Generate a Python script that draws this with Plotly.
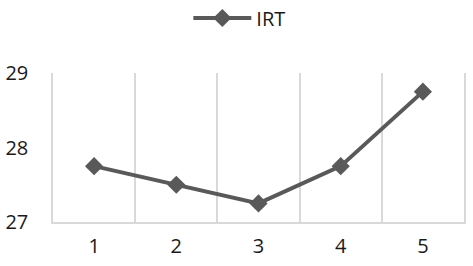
import plotly.graph_objects as go

# IRT values per category
categories = [1, 2, 3, 4, 5]
irt = [27.75, 27.5, 27.25, 27.75, 28.75]
y_ticks = [27, 28, 29]

fig = go.Figure()
fig.add_trace(go.Scatter(
    x=categories, y=irt, mode="lines+markers", name="IRT",
    line=dict(color="#595959", width=4),
    marker=dict(symbol="diamond", size=14, color="#595959"),
))

fig.update_layout(
    width=473, height=266,
    margin=dict(l=53, r=9, t=73, b=44, autoexpand=False),
    paper_bgcolor="white", plot_bgcolor="white",
    font=dict(family="Open Sans", size=20, color="#1a1a1a"),
    showlegend=True,
    legend=dict(orientation="h", x=0.506, xanchor="center", xref="container",
                y=1 - 18 / 266, yanchor="middle", yref="container",
                itemwidth=58, font=dict(size=20)),
)
fig.update_xaxes(
    range=[0.5, 5.5], tickvals=categories, showgrid=False,
    showline=True, linecolor="#d9d9d9", linewidth=1.5,
    ticks="", ticklabelstandoff=5,
    minor=dict(tickvals=[1.5, 2.5, 3.5, 4.5], showgrid=True,
               gridcolor="#d9d9d9", gridwidth=1.5),
    zeroline=False,
)
fig.update_yaxes(
    range=[27, 29], tickvals=y_ticks, showgrid=False, zeroline=False,
    showline=True, mirror=True, linecolor="#d9d9d9", linewidth=1.5,
    ticks="", ticklabelstandoff=19,
)

# drop the page's default body margin so the figure fills the window
fig.write_html("out.html", config={"displayModeBar": False},
               post_script="document.body.style.margin='0';")
